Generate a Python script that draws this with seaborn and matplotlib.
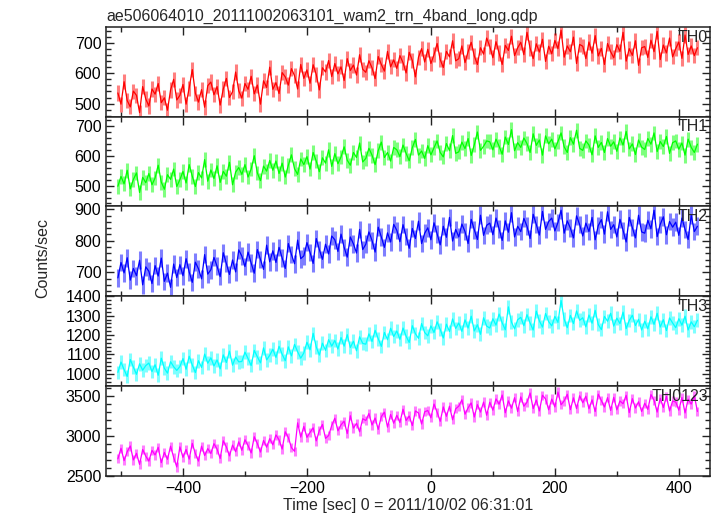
import numpy as np
import pandas as pd
import seaborn as sns
import matplotlib.pyplot as plt
from matplotlib.ticker import MultipleLocator

# time axis: one point every 5 s, from -505 to 430 s
time = list(range(-505, 431, 5))

th0 = [535, 498, 572, 510, 489, 541, 527, 470, 556, 515,
       492, 548, 531, 566, 503, 519, 478, 545, 580, 512,
       527, 563, 498, 551, 612, 534, 505, 546, 488, 559,
       571, 529, 556, 495, 548, 583, 520, 539, 604, 542,
       518, 566, 547, 590, 532, 561, 498, 575, 553, 620,
       547, 569, 533, 602, 588, 561, 615, 592, 548, 629,
       583, 611, 567, 628, 596, 545, 618, 604, 642, 589,
       632, 598, 621, 576, 648, 609, 627, 594, 661, 613,
       603, 641, 618, 582, 655, 629, 607, 672, 621, 644,
       616, 658, 635, 601, 669, 642, 588, 653, 681, 637,
       679, 632, 661, 698, 645, 619, 672, 654, 707, 641,
       648, 690, 635, 671, 702, 657, 629, 684, 663, 716,
       688, 651, 704, 667, 629, 692, 675, 722, 658, 684,
       702, 661, 735, 683, 648, 697, 670, 712, 639, 689,
       664, 708, 681, 742, 653, 690, 671, 719, 632, 695,
       689, 648, 703, 666, 724, 657, 682, 629, 698, 671,
       651, 694, 672, 735, 640, 681, 659, 707, 626, 684,
       688, 652, 709, 671, 738, 645, 693, 667, 716, 654,
       681, 703, 649, 726, 662, 690, 658, 684]

th1 = [498, 531, 506, 552, 489, 521, 543, 477, 528, 510,
       541, 503, 526, 569, 512, 488, 537, 521, 556, 497,
       520, 548, 509, 571, 532, 497, 544, 526, 588, 515,
       553, 524, 567, 511, 548, 532, 579, 503, 546, 561,
       538, 571, 529, 556, 601, 543, 517, 566, 549, 585,
       552, 583, 541, 576, 529, 569, 604, 557, 538, 590,
       571, 598, 556, 612, 583, 547, 594, 576, 621, 565,
       608, 574, 597, 631, 586, 569, 612, 595, 644, 580,
       592, 626, 603, 571, 618, 647, 595, 612, 583, 629,
       621, 598, 637, 609, 584, 628, 656, 603, 617, 592,
       635, 604, 628, 651, 612, 597, 642, 618, 669, 609,
       614, 647, 625, 659, 602, 638, 681, 619, 633, 651,
       648, 621, 657, 633, 606, 664, 639, 689, 618, 645,
       629, 661, 642, 612, 675, 636, 654, 603, 668, 641,
       657, 624, 649, 678, 631, 612, 662, 640, 687, 626,
       619, 651, 637, 604, 668, 629, 646, 612, 659, 633,
       648, 616, 661, 637, 683, 624, 641, 605, 654, 630,
       622, 659, 640, 678, 615, 649, 632, 666, 609, 645,
       651, 623, 644, 603, 657, 629, 612, 640]

th2 = [682, 731, 698, 746, 675, 712, 689, 738, 660, 717,
       703, 664, 721, 688, 745, 671, 697, 652, 726, 683,
       724, 689, 743, 701, 668, 732, 711, 679, 756, 694,
       708, 747, 719, 686, 762, 728, 693, 739, 701, 771,
       751, 718, 764, 729, 697, 772, 741, 709, 786, 733,
       768, 731, 779, 745, 712, 791, 756, 727, 802, 743,
       752, 794, 763, 728, 807, 772, 741, 789, 758, 815,
       803, 766, 821, 779, 748, 812, 790, 761, 836, 772,
       789, 828, 801, 764, 843, 812, 779, 825, 796, 852,
       833, 797, 851, 814, 776, 839, 807, 862, 791, 824,
       841, 803, 857, 822, 787, 846, 811, 874, 799, 836,
       812, 853, 829, 791, 868, 835, 804, 881, 817, 849,
       856, 819, 872, 838, 801, 863, 827, 889, 812, 846,
       829, 871, 846, 807, 884, 852, 818, 893, 836, 861,
       872, 831, 858, 897, 824, 863, 840, 809, 879, 851,
       815, 856, 829, 874, 803, 848, 867, 821, 892, 836,
       851, 812, 868, 833, 796, 874, 842, 809, 881, 828,
       824, 865, 838, 897, 813, 852, 876, 819, 861, 843,
       859, 817, 872, 836, 804, 881, 829, 846]

th3 = [1008, 1061, 1022, 987, 1074, 1035, 998, 1052, 1019, 1043,
       1056, 1012, 1047, 993, 1081, 1029, 1004, 1063, 1037, 1018,
       1038, 1079, 1024, 1091, 1046, 1007, 1068, 1033, 1102, 1055,
       1083, 1041, 1072, 1026, 1098, 1059, 1117, 1045, 1087, 1062,
       1064, 1112, 1079, 1043, 1121, 1088, 1057, 1134, 1072, 1096,
       1127, 1085, 1142, 1101, 1068, 1139, 1093, 1152, 1114, 1081,
       1108, 1163, 1124, 1209, 1139, 1097, 1158, 1121, 1176, 1143,
       1172, 1128, 1187, 1143, 1202, 1136, 1168, 1119, 1191, 1157,
       1153, 1206, 1167, 1224, 1181, 1142, 1213, 1176, 1235, 1192,
       1221, 1178, 1236, 1194, 1162, 1248, 1207, 1183, 1259, 1213,
       1196, 1247, 1213, 1268, 1229, 1185, 1256, 1218, 1283, 1234,
       1262, 1219, 1278, 1236, 1297, 1221, 1253, 1204, 1289, 1246,
       1236, 1284, 1251, 1308, 1263, 1227, 1345, 1266, 1232, 1279,
       1291, 1248, 1305, 1262, 1226, 1323, 1273, 1241, 1311, 1269,
       1247, 1296, 1265, 1378, 1282, 1238, 1301, 1259, 1324, 1276,
       1289, 1242, 1303, 1261, 1327, 1254, 1228, 1296, 1271, 1312,
       1246, 1287, 1259, 1318, 1233, 1275, 1302, 1249, 1281, 1226,
       1271, 1232, 1294, 1255, 1312, 1241, 1279, 1223, 1288, 1262,
       1238, 1284, 1251, 1297, 1226, 1268, 1243, 1276]

th0123 = [2712, 2845, 2690, 2801, 2873, 2698, 2781, 2642, 2829, 2745,
          2683, 2818, 2761, 2857, 2664, 2792, 2706, 2871, 2729, 2610,
          2862, 2731, 2829, 2708, 2905, 2776, 2684, 2871, 2753, 2840,
          2779, 2902, 2834, 2717, 2938, 2861, 2749, 2884, 2801, 2925,
          2819, 2951, 2878, 2786, 2989, 2903, 2797, 2942, 2858, 2965,
          2887, 3012, 2949, 2834, 3051, 2978, 2852, 2806, 3163, 2984,
          3118, 2981, 3043, 3101, 2937, 3067, 3142, 2968, 3004, 3129,
          3221, 3063, 3138, 3183, 3029, 3252, 3097, 3157, 3051, 3214,
          3192, 3279, 3136, 3223, 3081, 3241, 3297, 3109, 3268, 3158,
          3257, 3167, 3334, 3192, 3248, 3129, 3312, 3286, 3148, 3301,
          3318, 3226, 3398, 3297, 3182, 3362, 3245, 3371, 3201, 3339,
          3372, 3452, 3271, 3351, 3412, 3236, 3391, 3298, 3423, 3258,
          3421, 3322, 3463, 3396, 3511, 3289, 3438, 3347, 3478, 3305,
          3488, 3371, 3421, 3537, 3341, 3449, 3312, 3509, 3462, 3326,
          3461, 3362, 3549, 3389, 3438, 3521, 3328, 3476, 3341, 3502,
          3414, 3497, 3339, 3451, 3304, 3522, 3442, 3362, 3479, 3318,
          3483, 3326, 3437, 3402, 3508, 3291, 3466, 3349, 3427, 3305,
          3409, 3331, 3517, 3446, 3298, 3471, 3355, 3494, 3312, 3436,
          3424, 3322, 3481, 3287, 3459, 3398, 3503, 3306]

bands = ['TH0', 'TH1', 'TH2', 'TH3', 'TH0123']
series = [th0, th1, th2, th3, th0123]
errors = [25, 25, 28, 35, 58]
colors = ['#ff0000', '#00ff00', '#0000ff', '#00ffff', '#ff00ff']
ylims = [(457, 753), (430, 733), (624, 909), (938, 1400), (2500, 3625)]
ymajor = [100, 100, 100, 100, 500]
yminor = [20, 20, 20, 20, 100]

sns.set_theme(style='ticks')
plt.rcParams['font.family'] = ['Liberation Sans', 'DejaVu Sans']
plt.rcParams['font.size'] = 11.5

fig, axes = plt.subplots(5, 1, figsize=(7.17, 5.16), dpi=100, sharex=True)
fig.subplots_adjust(left=0.148, right=0.990, top=0.948, bottom=0.078, hspace=0)

for ax, name, vals, err, col, ylim, maj, mnr in zip(axes, bands, series, errors, colors,
                                                     ylims, ymajor, yminor):
    df = pd.DataFrame({'time': time, 'rate': vals})
    # light error bars behind the light curve
    ax.vlines(df['time'], df['rate'] - err, df['rate'] + err, color=col, alpha=0.5, lw=2.2)
    sns.lineplot(data=df, x='time', y='rate', ax=ax, color=col, lw=0.9, estimator=None)
    ax.set_xlim(-524, 450)
    ax.set_ylim(*ylim)
    ax.xaxis.set_major_locator(MultipleLocator(200))
    ax.xaxis.set_minor_locator(MultipleLocator(100))
    ax.yaxis.set_major_locator(MultipleLocator(maj))
    ax.yaxis.set_minor_locator(MultipleLocator(mnr))
    ax.tick_params(which='both', direction='in', top=True, right=True, width=1.0, colors='#222222',
                   labelcolor='black', labelsize=11.5)
    ax.tick_params(which='major', length=6)
    ax.tick_params(which='minor', length=3.5)
    for s in ax.spines.values():
        s.set_linewidth(1.1)
        s.set_color('#222222')
    ax.set_xlabel('')
    ax.set_ylabel('')
    ax.text(0.997, 0.97, name, transform=ax.transAxes, ha='right', va='top', fontsize=11.5)

axes[0].set_title('ae506064010_20111002063101_wam2_trn_4band_long.qdp', loc='left',
                  fontsize=11.5, pad=4)
axes[-1].set_xlabel('Time [sec] 0 = 2011/10/02 06:31:01', fontsize=11.5, labelpad=2)
fig.text(0.06, 0.5, 'Counts/sec', rotation=90, ha='center', va='center', fontsize=11.5)

fig.savefig('out.png', dpi=100)
